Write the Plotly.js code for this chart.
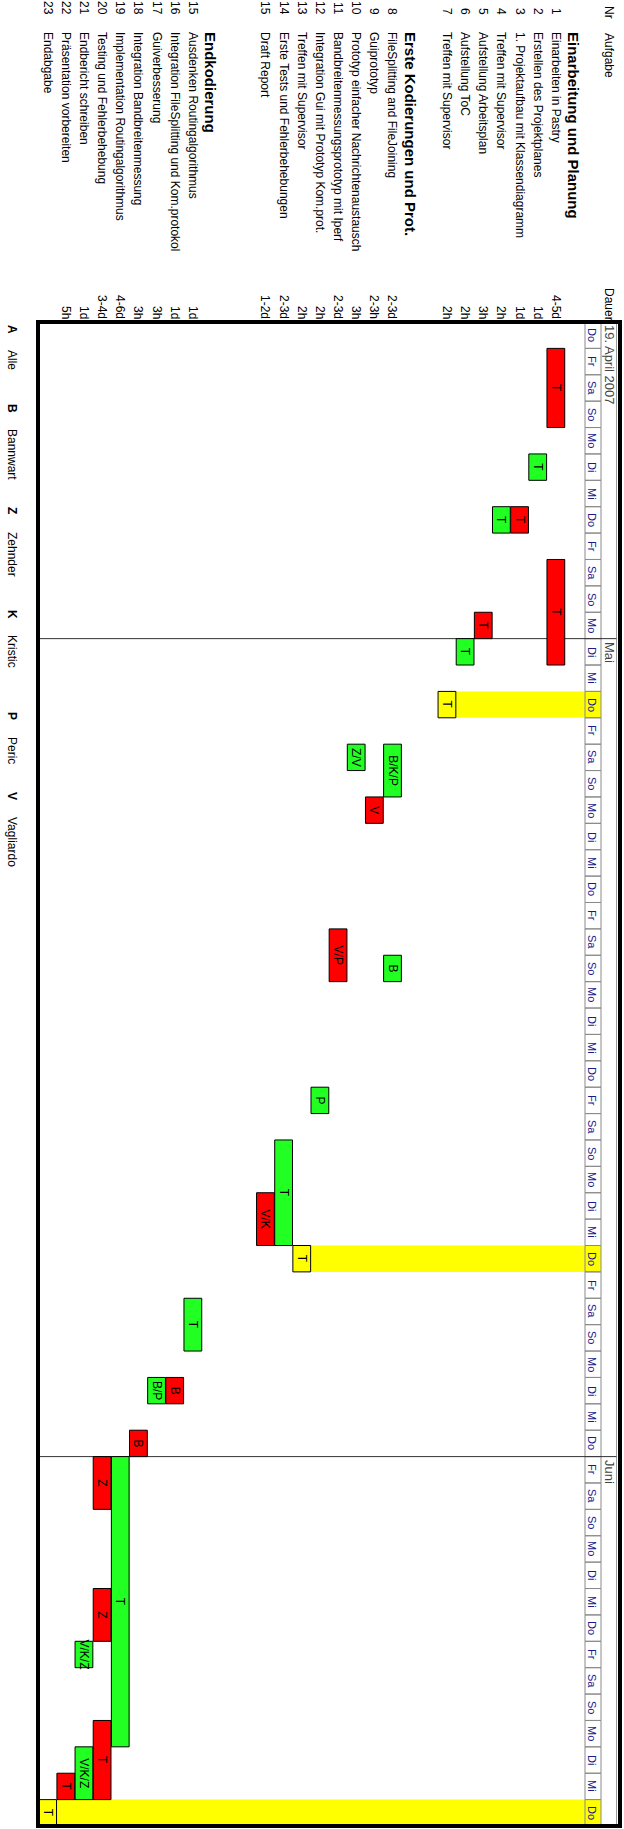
<!DOCTYPE html>
<html><head><meta charset="utf-8">
<script src="https://cdn.plot.ly/plotly-3.0.1.min.js"></script>
<style>
html,body{margin:0;padding:0;overflow:hidden;background:#fff;width:624px;height:1829px;}
#rot{position:absolute;left:0;top:0;width:1829px;height:624px;transform-origin:0 0;transform:translate(624px,0) rotate(90deg);}
</style></head><body>
<div id="rot"><div id="chart" style="width:1829px;height:624px"></div></div>
<script>
// ---------- data ----------
const dayLabels = ['Do','Fr','Sa','So','Mo','Di','Mi','Do','Fr','Sa','So','Mo','Di','Mi',
  'Do','Fr','Sa','So','Mo','Di','Mi','Do','Fr','Sa','So','Mo','Di','Mi',
  'Do','Fr','Sa','So','Mo','Di','Mi','Do','Fr','Sa','So','Mo','Di','Mi',
  'Do','Fr','Sa','So','Mo','Di','Mi','Do','Fr','Sa','So','Mo','Di','Mi','Do'];
const monthLabels = ['19. April 2007','Mai','Juni'];
const monthStartDay = [0, 12, 43];

const rowNr = ['','1','2','3','4','5','6','7','','','8','9','10','11','12','13','14','15','','','','15','16','17','18','19','20','21','22','23'];
const rowTask = ['Einarbeitung und Planung','Einarbeiten in Pastry','Erstellen des Projektplanes',
  '1. Projektaufbau mit Klassendiagramm','Treffen mit Supervisor','Aufstellung Arbeitsplan','Aufstellung ToC',
  'Treffen mit Supervisor','','Erste Kodierungen und Prot.','FileSplitting and FileJoining','Guiprototyp',
  'Prototyp einfacher Nachrichtenaustausch','Bandbreitenmessungsprototyp mit Iperf',
  'Integration Gui mit Prototyp Kom.prot.','Treffen mit Supervisor','Erste Tests und Fehlerbehebungen',
  'Draft Report','','','Endkodierung','Ausdenken Routingalgorithmus',
  'Integration FileSplitting und Kom.protokol','Guiverbesserung','Integration Bandbreitenmessung',
  'Implementation Routingalgorithmus','Testing und Fehlerbehebung','Endbericht schreiben',
  'Präsentation vorbereiten','Endabgabe'];
const rowDauer = ['','4-5d','1d','1d','2h','3h','2h','2h','','','2-3d','2-3h','3h','2-3d','2h','2h','2-3d','1-2d',
  '','','','1d','1d','3h','3h','4-6d','3-4d','1d','5h',''];
const headerRows = [0, 9, 20];

// bar segments: row, start day index, length in days, who, kind (r=red, g=green, y=milestone)
const segRow   = [1,1,2,3,4,5,6,7, 10,10,11,12,13,14,15,16,17, 21,22,23,24,25,26,26,26,27,27,28,29];
const segStart = [1,9,5,7,7,11,12,14, 16,24,18,16,23,29,35,31,33, 37,40,40,42,43,43,48,53,50,54,55,56];
const segDays  = [3,4,1,1,1,1,1,1, 2,1,1,1,2,1,1,4,2, 2,1,1,1,11,2,2,3,1,2,1,1];
const segWho   = ['T','T','T','T','T','T','T','T', 'B/K/P','B','V','Z/V','V/P','P','T','T','V/K',
  'T','B','B/P','B','T','Z','Z','T','V/K/Z','V/K/Z','T','T'];
const segKind  = ['r','r','g','r','g','r','g','y', 'g','g','r','g','r','g','y','g','r',
  'g','r','g','r','g','r','r','r','g','g','r','y'];

const legendKeys  = ['A','B','Z','K','P','V'];
const legendNames = ['Alle','Bannwart','Zehnder','Kristic','Peric','Vagliardo'];

// ---------- layout helpers ----------
const FONT = 'Liberation Sans, Arial, sans-serif';
const kindColor = {r:'#ff0000', g:'#22ff22', y:'#ffff00'};
const L = 322, T = 4, W = 1504, H = 582;
const rowPx0 = 50, rowStep = 18.15;
const vToRow = v => (v - rowPx0) / rowStep;
const uToPaper = u => (u - L) / W;
const vToPaperY = v => 1 - (v - T) / H;
const yTop = vToRow(T), yBot = vToRow(T + H);
const nDays = dayLabels.length;
const dayTop = vToRow(23), dayBot = vToRow(39);

const shapes = [];
const annotations = [];

// milestone bands
segKind.forEach((k, i) => {
  if (k === 'y') {
    shapes.push({type:'rect', layer:'below', xref:'x', yref:'y',
      x0: segStart[i], x1: segStart[i] + segDays[i], y0: dayBot, y1: segRow[i] - 0.49,
      fillcolor:'#ffff00', line:{width:0}});
  }
});
const msDays = new Set(segStart.filter((s, i) => segKind[i] === 'y'));
// day header cells
dayLabels.forEach((d, i) => {
  shapes.push({type:'rect', layer:'below', xref:'x', yref:'y', x0:i, x1:i+1, y0:dayTop, y1:dayBot,
    fillcolor: msDays.has(i) ? '#ffff00' : 'rgba(0,0,0,0)', line:{color:'#8a8a8a', width:1}});
  annotations.push({x:i+0.5, y:vToRow(31.5), xref:'x', yref:'y', text:d, showarrow:false,
    font:{family:FONT, size:11, color:'#1a1a8c'}, xanchor:'center', yanchor:'middle'});
});
// thin line on the outer side of the month row
shapes.push({type:'line', layer:'below', xref:'paper', yref:'y', x0:0, x1:1, y0:vToRow(7.5), y1:vToRow(7.5),
  line:{color:'#9a9a9a', width:1}});
// month separators + labels
monthStartDay.forEach((m, k) => {
  if (k > 0) {
    shapes.push({type:'line', layer:'below', xref:'x', yref:'y', x0:m, x1:m, y0:vToRow(7.5), y1:yBot,
      line:{color:'#333', width:1}});
  }
  annotations.push({x:m + 0.05, y:vToRow(14), xref:'x', yref:'y', text:monthLabels[k], showarrow:false,
    font:{family:FONT, size:13, color:'#444'}, xanchor:'left', yanchor:'middle'});
});
// frame
shapes.push({type:'rect', layer:'above', xref:'paper', yref:'paper', x0:0, x1:1, y0:0, y1:1,
  line:{color:'#000', width:4}});

// task list
const headY = vToRow(15);
annotations.push({x:uToPaper(4), y:headY, xref:'paper', yref:'y', text:'Nr', showarrow:false,
  font:{family:FONT, size:12, color:'#000'}, xanchor:'left', yanchor:'middle'});
annotations.push({x:uToPaper(31), y:headY, xref:'paper', yref:'y', text:'Aufgabe', showarrow:false,
  font:{family:FONT, size:12, color:'#000'}, xanchor:'left', yanchor:'middle'});
annotations.push({x:uToPaper(286), y:headY, xref:'paper', yref:'y', text:'Dauer', showarrow:false,
  font:{family:FONT, size:12, color:'#000'}, xanchor:'left', yanchor:'middle'});
rowTask.forEach((t, r) => {
  const isHead = headerRows.includes(r);
  if (rowNr[r]) annotations.push({x:uToPaper(17), y:r, xref:'paper', yref:'y', text:rowNr[r], showarrow:false,
    font:{family:FONT, size:12, color:'#000'}, xanchor:'right', yanchor:'middle'});
  if (t) annotations.push({x:uToPaper(30), y:r, xref:'paper', yref:'y', text: isHead ? '<b>'+t+'</b>' : t, showarrow:false,
    font:{family:FONT, size: isHead ? 15 : 12, color:'#000'}, xanchor:'left', yanchor:'middle'});
  if (rowDauer[r]) annotations.push({x:uToPaper(321), y:r, xref:'paper', yref:'y', text:rowDauer[r], showarrow:false,
    font:{family:FONT, size:12, color:'#000'}, xanchor:'right', yanchor:'middle'});
});

// legend
const legendU = [323, 402, 505, 608, 710, 790];
legendKeys.forEach((k, i) => {
  annotations.push({x:uToPaper(legendU[i]), y:vToPaperY(612), xref:'paper', yref:'paper', text:'<b>'+k+'</b>',
    showarrow:false, font:{family:FONT, size:12, color:'#000'}, xanchor:'left', yanchor:'middle'});
  annotations.push({x:uToPaper(legendU[i] + 25), y:vToPaperY(612), xref:'paper', yref:'paper', text:legendNames[i],
    showarrow:false, font:{family:FONT, size:12, color:'#000'}, xanchor:'left', yanchor:'middle'});
});

const trace = {
  type:'bar', orientation:'h',
  y: segRow, x: segDays, base: segStart, width: 0.98,
  text: segWho, textposition:'inside', insidetextanchor:'middle', textangle:0, constraintext:'none',
  insidetextfont:{family:FONT, size:12, color:'#000'},
  marker:{color: segKind.map(k => kindColor[k]), line:{color:'#000', width:1}},
  hoverinfo:'skip'
};

const layout = {
  width:1829, height:624,
  margin:{l:L, r:1829 - L - W, t:T, b:624 - T - H, pad:0},
  paper_bgcolor:'#fff', plot_bgcolor:'#fff',
  showlegend:false, barmode:'overlay', hovermode:false,
  font:{family:FONT},
  xaxis:{range:[0, nDays], showgrid:false, zeroline:false, showticklabels:false, ticks:'', showline:false, fixedrange:true},
  yaxis:{range:[yBot, yTop], showgrid:false, zeroline:false, showticklabels:false, ticks:'', showline:false, fixedrange:true},
  shapes: shapes, annotations: annotations
};

Plotly.newPlot('chart', [trace], layout, {staticPlot:true, displayModeBar:false, responsive:false});
</script>
</body></html>
